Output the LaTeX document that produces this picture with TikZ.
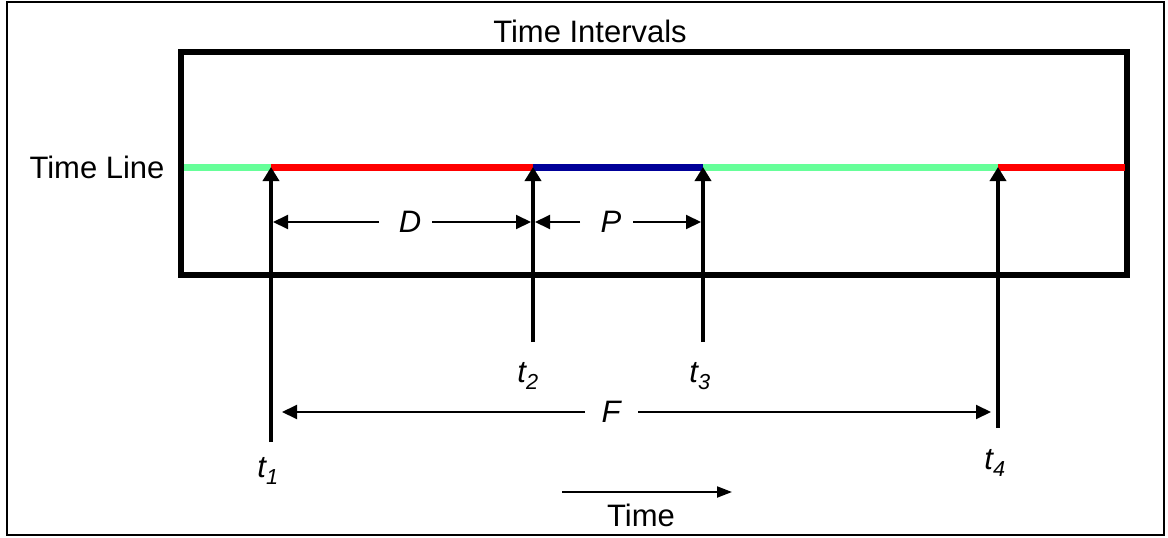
\documentclass[tikz,border=0pt]{standalone}
\usepackage{fontspec}
\setmainfont{Liberation Sans}
\usetikzlibrary{arrows.meta}
\definecolor{tlgreen}{RGB}{102,255,153}
\definecolor{tlred}{RGB}{255,0,0}
\definecolor{tlblue}{RGB}{0,0,153}
\tikzset{
  txt/.style={font=\fontsize{31}{36}\selectfont, inner sep=0pt},
  itxt/.style={font=\fontsize{31}{36}\selectfont\itshape, inner sep=0pt},
  seg/.style={line width=7pt},
  upar/.style={line width=3.5pt, -{Triangle[length=14pt,width=16pt]}},
  dimar/.style={line width=2pt, -{Triangle[length=15pt,width=14pt]}},
  timear/.style={line width=2pt, -{Triangle[length=15pt,width=11pt]}},
}
\begin{document}
\begin{tikzpicture}[x=1pt,y=-1pt]
\useasboundingbox (0,0) rectangle (1168,538);
\fill[white] (0,0) rectangle (1168,538);
% outer frame
\draw[line width=2pt] (7,2) rectangle (1164,535);
% title
\node[txt] (title) at (590,31) {Time Intervals};
% inner box
\draw[line width=5.5pt] (181,52) rectangle (1127,275);
% time line label
\node[txt] (tl) at (97,167) {Time Line};
% timeline points
\coordinate (a0) at (184,167);
\coordinate (a1) at (271,167);
\coordinate (a2) at (533,167);
\coordinate (a3) at (703,167);
\coordinate (a4) at (998,167);
\coordinate (a5) at (1125,167);
\draw[seg,tlgreen] (a0) -- (a1);
\draw[seg,tlred] (a1) -- (a2);
\draw[seg,tlblue] (a2) -- (a3);
\draw[seg,tlgreen] (a3) -- (a4);
\draw[seg,tlred] (a4) -- (a5);
% vertical arrows
\coordinate (b1) at (271,442);
\coordinate (b2) at (533,342);
\coordinate (b3) at (703,342);
\coordinate (b4) at (998,428);
\draw[upar] (b1) -- (a1);
\draw[upar] (b2) -- (a2);
\draw[upar] (b3) -- (a3);
\draw[upar] (b4) -- (a4);
% labels t
\node[itxt] (t1) at (268,471) {t\textsubscript{1}};
\node[itxt] (t2) at (528,376) {t\textsubscript{2}};
\node[itxt] (t3) at (700,376) {t\textsubscript{3}};
\node[itxt] (t4) at (995,463) {t\textsubscript{4}};
% D
\node[itxt] (D) at (410,222) {D};
\coordinate (dl) at (379,222);
\coordinate (dr) at (432,222);
\coordinate (dL) at (273,222);
\coordinate (dR) at (531,222);
\draw[dimar] (dl) -- (dL);
\draw[dimar] (dr) -- (dR);
% P
\node[itxt] (P) at (611,222) {P};
\coordinate (pl) at (580,222);
\coordinate (pr) at (633,222);
\coordinate (pL) at (535,222);
\coordinate (pR) at (701,222);
\draw[dimar] (pl) -- (pL);
\draw[dimar] (pr) -- (pR);
% F
\node[itxt] (F) at (611,412) {F};
\coordinate (fl) at (585,412);
\coordinate (fr) at (638,412);
\coordinate (fL) at (282,412);
\coordinate (fR) at (991,412);
\draw[dimar] (fl) -- (fL);
\draw[dimar] (fr) -- (fR);
% time arrow
\coordinate (ts) at (562,492);
\coordinate (te) at (732,492);
\draw[timear] (ts) -- (te);
\node[txt] (time) at (641,515) {Time};
\end{tikzpicture}
\end{document}
